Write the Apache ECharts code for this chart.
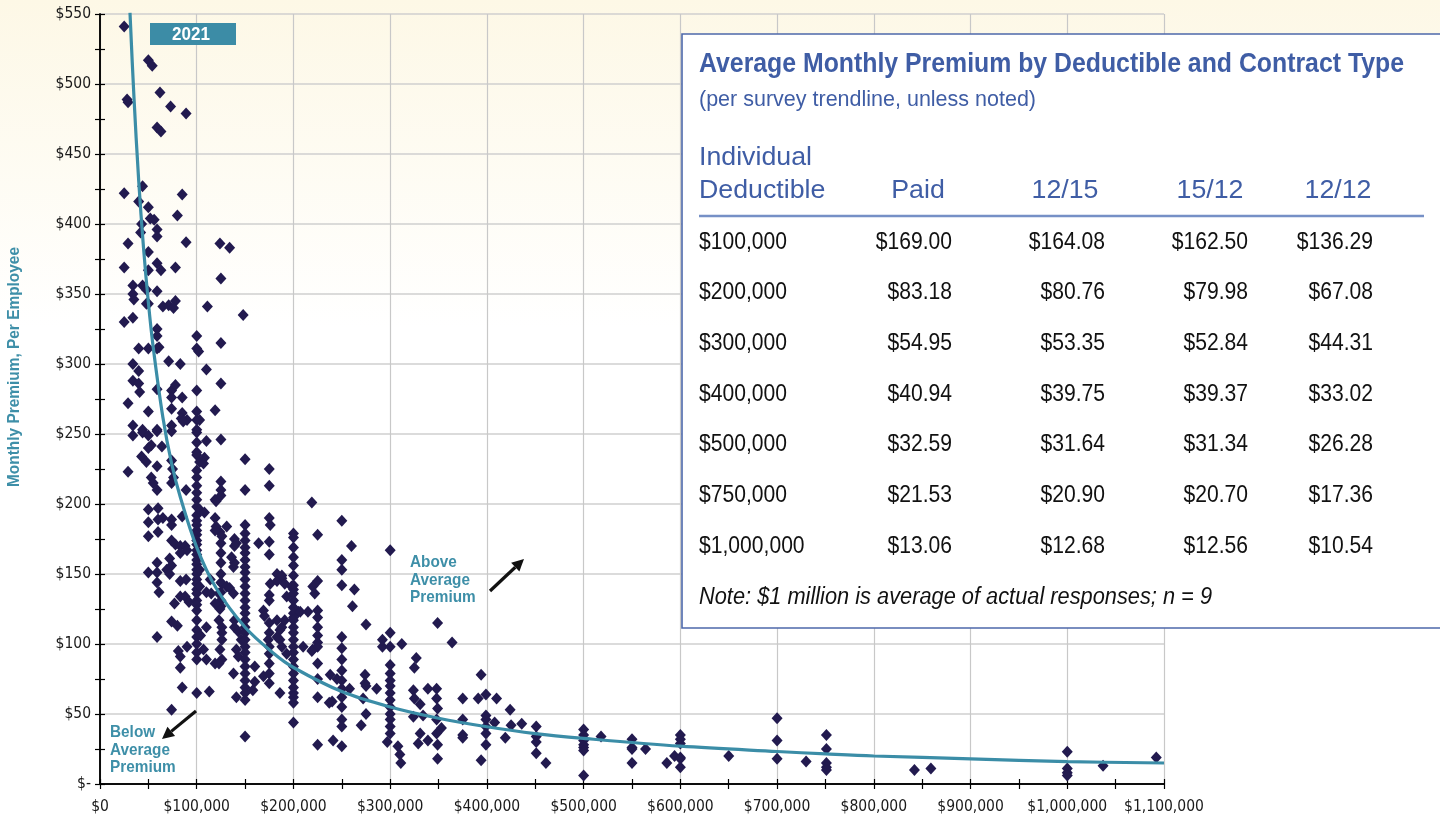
<!DOCTYPE html>
<html><head><meta charset="utf-8">
<script src="https://cdn.jsdelivr.net/npm/echarts@6/dist/echarts.min.js"></script>
<style>html,body{margin:0;padding:0;background:#fff}#c{width:1440px;height:820px}</style>
</head><body><div id="c"></div>
<script>
// ---- scatter responses: [deductible in $ thousands, monthly premium $] ----
const under48k = [[25,541],[28,489],[29,487],[25,422],[44,427],[40,416],[43,400],[42,394],[29,386],[25,369],[34,356],[44,356],[34,350],[35,346],[34,333],[25,330],[40,311],[34,300],[40,295],[34,288],[40,286],[41,280],[29,272],[34,256],[44,253],[34,249],[44,251],[43,234],[29,223]];
const from48to95k = [[50,517],[54,513],[62,494],[73,484],[89,479],[59,469],[63,466],[85,421],[50,412],[52,404],[56,403],[80,406],[59,396],[59,391],[89,387],[50,380],[59,372],[63,367],[50,367],[78,369],[48,353],[59,352],[78,345],[71,342],[65,341],[76,340],[50,343],[48,343],[59,325],[59,320],[50,311],[61,312],[59,311],[71,302],[83,300],[59,282],[74,281],[78,285],[74,276],[85,276],[50,266],[74,268],[85,265],[90,260],[84,261],[86,259],[74,256],[59,253],[74,252],[59,252],[50,249],[53,242],[50,240],[64,241],[48,230],[59,227],[74,231],[75,225],[53,219],[76,219],[55,215],[74,215],[59,210],[89,210],[50,196],[60,197],[50,187],[60,189],[65,190],[74,189],[85,191],[74,185],[50,177],[60,180],[74,174],[78,171],[83,170],[88,170],[90,167],[83,165],[72,161],[59,158],[74,156],[69,153],[50,151],[59,151],[72,150],[83,145],[89,146],[59,144],[61,137],[83,134],[88,134],[92,130],[77,129],[74,116],[80,113],[59,105],[90,98],[81,95],[83,91],[83,83],[85,69],[74,53]];
const from95to150k = [[100,320],[100,311],[102,309],[100,281],[100,266],[100,260],[103,260],[100,253],[100,251],[100,244],[100,237],[100,235],[100,224],[100,219],[100,213],[100,208],[100,203],[100,198],[100,192],[100,188],[100,185],[100,181],[100,178],[100,174],[100,171],[100,167],[100,164],[100,160],[100,157],[100,153],[100,150],[100,146],[100,143],[100,139],[100,136],[100,131],[100,128],[100,124],[100,117],[100,110],[100,105],[100,100],[100,94],[100,89],[100,65],
  [103,230],[108,233],[107,229],[110,245],[110,296],[111,341],[119,267],[103,196],[108,194],[119,203],[120,202],[103,153],[114,146],[103,141],[110,137],[115,136],[110,112],[104,106],[107,96],[110,89],[113,66],
  [124,386],[134,383],[125,361],[125,315],[125,286],[125,246],[125,216],[125,210],[125,206],[119,190],[120,184],[124,180],[119,181],[126,177],[125,172],[125,165],[125,158],[125,150],[125,144],[125,137],[125,131],[125,127],[123,136],[124,125],[119,129],[126,143],[123,117],[126,112],[126,108],[126,103],[124,96],[126,89],[119,86],[123,86],
  [131,184],[139,175],[141,172],[131,141],[134,140],[138,136],[138,155],[139,158],[139,170],[136,162],[139,117],[139,112],[143,109],[146,103],[141,96],[143,91],[138,79],[141,62],[148,335]];
const at150k = [232,210,185,179,174,169,165,160,155,151,146,141,136,131,126,122,117,112,108,103,98,94,89,84,79,74,69,65,60,34];
const from155to205k = [[160,84],[169,77],[160,73],[158,67],[164,172],[169,124],[170,120],
  [175,225],[175,213],[175,190],[176,185],[175,173],[175,164],[176,143],[175,135],[175,131],[175,115],[175,108],[174,103],[175,98],[175,93],[175,86],[175,79],[175,72],
  [183,150],[188,147],[191,143],[193,134],[183,145],[188,149],[198,141],[183,117],[188,112],[186,103],[188,98],[193,93],[186,65],[191,117],[186,110],[183,105],[205,123]];
const at200k = [179,176,169,162,156,149,142,139,136,131,126,122,119,117,112,108,103,98,94,89,84,79,74,69,65,62,58,44];
const from205to300k = [[219,201],[225,178],[225,145],[220,141],[222,136],[207,123],[215,123],[225,124],[225,119],[225,112],[225,106],[225,101],[225,98],[220,96],[210,98],[219,95],[225,86],[225,75],[225,62],
  [250,188],[250,160],[250,153],[250,142],[260,170],[263,139],[261,127],[275,114],[250,105],[250,97],[250,89],[250,81],[250,74],[250,68],[250,62],[250,55],[250,46],[250,41],[250,27],
  [240,59],[237,58],[238,78],[245,75],[258,68],[274,78],[274,72],[286,68],[241,31],[225,28],[275,70],[272,61],[275,50],[270,42],[292,98],[292,103]];
const from300to500k = [[300,167],[300,108],[300,98],[312,100],[300,85],[300,79],[300,74],[300,70],[300,65],[300,60],[300,55],[300,50],[300,46],[300,41],[300,36],[297,30],[308,27],[310,21],[311,15],
  [327,90],[325,83],[324,67],[325,61],[324,48],[331,57],[334,49],[339,68],[348,68],[348,61],[349,54],[348,46],[353,40],[348,36],[349,28],[349,18],[331,36],[329,29],[339,31],[349,115],[364,101],
  [394,78],[375,61],[391,61],[399,64],[410,61],[424,53],[375,46],[375,35],[375,33],[399,49],[399,46],[399,41],[399,36],[399,28],[394,17],[408,44],[419,33],[425,42],[436,43],
  [451,41],[451,34],[451,30],[451,22],[461,15]];
const from500k = [[500,39],[500,35],[500,31],[500,28],[500,26],[500,24],[500,6],[518,34],[550,32],[550,26],[550,25],[550,15],[564,25],[586,15],[600,35],[600,32],[600,29],[594,20],[600,19],[600,18],[600,12],[650,20],[700,47],[700,31],[700,18],[730,16],[751,35],[751,25],[751,15],[751,12],[751,10],[842,10],[859,11],[1000,23],[1000,11],[1000,8],[1000,6],[1037,13],[1092,19]];

// ---- survey trendline ----
const trendDeductible = [31000,35000,40000,45000,50000,55000,65000,74000,83000,100000,120000,150000,180000,200000,250000,300000,350000,400000,450000,500000,600000,700000,750000,800000,900000,1000000,1100000];
const trendPremium    = [551,492,431,383,344,312,262,229,205,169,140,112,93,83.2,66,55,47,40.9,36,32.6,27,23.2,21.5,20,18,16,15];

// ---- table ----
const tableDeductibles = ['$100,000','$200,000','$300,000','$400,000','$500,000','$750,000','$1,000,000'];
const tableHeaders = ['Paid','12/15','15/12','12/12'];
const paidPremium = [169.00,83.18,54.95,40.94,32.59,21.53,13.06];
const premium1215 = [164.08,80.76,53.35,39.75,31.64,20.90,12.68];
const premium1512 = [162.50,79.98,52.84,39.37,31.34,20.70,12.56];
const premium1212 = [136.29,67.08,44.31,33.02,26.28,17.36,10.54];

const AXF = '"DejaVu Sans Condensed","Liberation Sans",sans-serif';
const GF = '"Liberation Sans",Arial,sans-serif';
const TEAL = '#3e8fa8';
const BLUE = '#3f5da5';

const points = [].concat(under48k, from48to95k, from95to150k,
  at150k.map(v => [150, v]), from155to205k, at200k.map(v => [200, v]),
  from205to300k, from300to500k, from500k).map(p => [p[0] * 1000, p[1]]);
const trend = trendDeductible.map((d, i) => [d, trendPremium[i]]);

// condensed-look text: measure and squeeze horizontally
const mctx = document.createElement('canvas').getContext('2d');
function squeeze(sample, font, width) { mctx.font = font; return width / mctx.measureText(sample).width; }
function txt(x, y, text, font, fill, sx, align, extra) {
  return Object.assign({ type: 'text', z: 101, x, y, scaleX: sx, originX: 0, originY: 0,
    style: { text, fill, font, align: align || 'left', verticalAlign: 'middle' } }, extra || {});
}

const chart = echarts.init(document.getElementById('c'));

function axisX(inside) {
  return {
    type: 'value', min: 0, max: 1100000, interval: 100000, position: 'bottom',
    axisLine: { show: true, onZero: false, lineStyle: { color: '#000', width: 1.5 } },
    axisTick: { show: true, inside: inside, length: 5, lineStyle: { color: '#000', width: 1.2 } },
    minorTick: { show: true, splitNumber: 2, length: 5, lineStyle: { color: '#000', width: 1.2 } },
    axisLabel: { show: !inside, margin: 15, fontFamily: AXF, fontSize: 15.5, color: '#1a1a1a',
      formatter: v => '$' + v.toLocaleString('en-US') },
    splitLine: { show: !inside, lineStyle: { color: '#c8c8c8', width: 1.2 } }
  };
}
function axisY(inside) {
  return {
    type: 'value', min: 0, max: 550, interval: 50, position: 'left',
    axisLine: { show: true, onZero: false, lineStyle: { color: '#000', width: 1.5 } },
    axisTick: { show: true, inside: inside, length: 5, lineStyle: { color: '#000', width: 1.2 } },
    minorTick: { show: true, splitNumber: 2, length: 5, lineStyle: { color: '#000', width: 1.2 } },
    axisLabel: { show: !inside, margin: 9, fontFamily: AXF, fontSize: 15.5, color: '#1a1a1a',
      formatter: v => v === 0 ? '$-' : '$' + v },
    splitLine: { show: !inside, lineStyle: { color: '#cfcfcf', width: 1.6 } }
  };
}

function arrow(x1, y1, x2, y2) {
  const a = Math.atan2(y2 - y1, x2 - x1), L = 12, W = 6;
  const bx = x2 - L * Math.cos(a), by = y2 - L * Math.sin(a);
  return [
    { type: 'line', z: 100, shape: { x1, y1, x2: bx, y2: by }, style: { stroke: '#111', lineWidth: 3.2 } },
    { type: 'polygon', z: 100, shape: { points: [[x2, y2],
      [bx + W * Math.sin(a), by - W * Math.cos(a)], [bx - W * Math.sin(a), by + W * Math.cos(a)]] },
      style: { fill: '#111' } }
  ];
}

const titleFont = 'bold 28px ' + GF, subFont = '22px ' + GF, headFont = '26px ' + GF,
      rowFont = '24px ' + GF, noteFont = 'italic 23px ' + GF, annFont = 'bold 17px ' + GF;
const title = 'Average Monthly Premium by Deductible and Contract Type';
const subtitle = '(per survey trendline, unless noted)';
const note = 'Note: $1 million is average of actual responses; n = 9';
const sTitle = squeeze(title, titleFont, 705);
const sSub = squeeze(subtitle, subFont, 337);
const sHead = squeeze('Individual', headFont, 113);
const sRow = squeeze('$100,000', rowFont, 88);
const sNote = squeeze(note, noteFont, 513);
const sAnn = squeeze('Average', annFont, 60);

const rowY0 = 242, rowGap = 50.7;
const colRight = [952, 1105, 1248, 1373];
const headCenter = [918, 1065, 1210, 1338];
const cols = [paidPremium, premium1215, premium1512, premium1212];
const tableEls = [
  { type: 'rect', z: 100, shape: { x: 682, y: 34, width: 800, height: 594 }, style: { fill: '#fff', stroke: '#4d68aa', lineWidth: 1.6 } },
  txt(699, 64, title, titleFont, BLUE, sTitle),
  txt(699, 100, subtitle, subFont, BLUE, sSub),
  txt(699, 158, 'Individual', headFont, BLUE, sHead),
  txt(699, 191, 'Deductible', headFont, BLUE, sHead),
  { type: 'line', z: 101, shape: { x1: 699, y1: 216, x2: 1424, y2: 216 }, style: { stroke: '#7690c6', lineWidth: 2.5 } },
  txt(699, 598, note, noteFont, '#111', sNote)
];
tableHeaders.forEach((h, j) => tableEls.push(txt(headCenter[j], 191, h, headFont, BLUE, sHead, 'center')));
tableDeductibles.forEach((d, i) => {
  const y = rowY0 + i * rowGap;
  tableEls.push(txt(699, y, d, rowFont, '#111', sRow));
  cols.forEach((c, j) => tableEls.push(txt(colRight[j], y, '$' + c[i].toFixed(2), rowFont, '#111', sRow, 'right')));
});

const option = {
  backgroundColor: { type: 'linear', x: 0, y: 0, x2: 0, y2: 1,
    colorStops: [{ offset: 0, color: '#fdf8e6' }, { offset: 0.4, color: '#ffffff' }, { offset: 1, color: '#ffffff' }] },
  animation: false,
  grid: { left: 100, right: 276, top: 14, bottom: 36 },
  xAxis: [axisX(false), axisX(true)],
  yAxis: [axisY(false), axisY(true)],
  series: [
    { type: 'scatter', xAxisIndex: 0, yAxisIndex: 0, data: points, symbol: 'diamond', symbolSize: [11, 12],
      itemStyle: { color: '#221a4f', opacity: 1 }, z: 3 },
    { type: 'line', xAxisIndex: 0, yAxisIndex: 0, data: trend, smooth: 0.35, showSymbol: false, clip: true,
      lineStyle: { color: '#3b8da7', width: 3.2 }, z: 4 }
  ],
  graphic: [
    { type: 'rect', z: 100, shape: { x: 150, y: 23, width: 86, height: 22 }, style: { fill: '#3c8ca6' } },
    txt(191, 35, '2021', 'bold 19px ' + GF, '#fff', squeeze('2021', 'bold 19px ' + GF, 38), 'center'),
    { type: 'text', z: 101, x: 15, y: 367, rotation: Math.PI / 2, scaleX: squeeze('Monthly Premium, Per Employee', 'bold 16px ' + GF, 240),
      style: { text: 'Monthly Premium, Per Employee', fill: TEAL, font: 'bold 16px ' + GF, align: 'center', verticalAlign: 'middle' } },
    { type: 'text', z: 100, x: 410, y: 554, scaleX: sAnn, style: { text: 'Above\nAverage\nPremium', fill: TEAL, font: annFont, lineHeight: 17.5 } },
    { type: 'text', z: 100, x: 110, y: 724, scaleX: sAnn, style: { text: 'Below\nAverage\nPremium', fill: TEAL, font: annFont, lineHeight: 17.5 } },
    ...arrow(490, 591, 524, 559),
    ...arrow(196, 711, 162, 739),
    ...tableEls
  ]
};
chart.setOption(option);
</script></body></html>
